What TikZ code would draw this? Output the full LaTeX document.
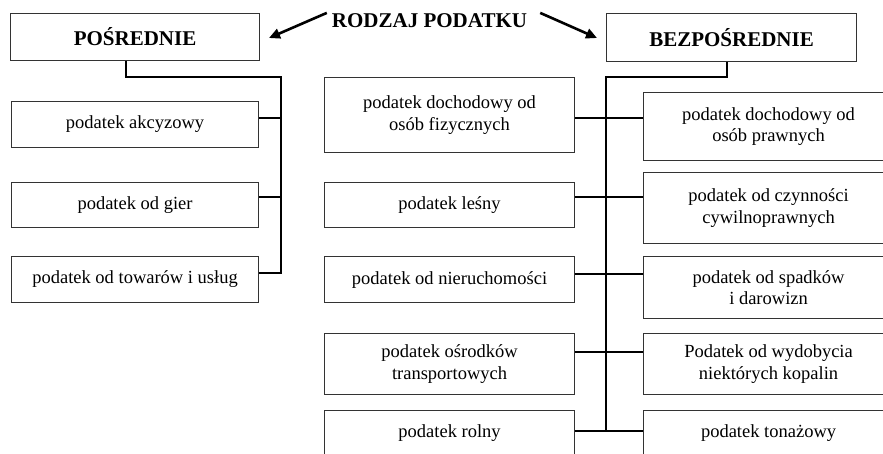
\documentclass[tikz,border=0pt]{standalone}
\usepackage{fontspec}
\setmainfont{Liberation Serif}
\usetikzlibrary{arrows.meta}
\begin{document}
\begin{tikzpicture}[x=1pt,y=-1pt,
  box/.style={draw=black!80, line width=1.1pt, anchor=north west, inner sep=0pt,
    align=center, font=\fontsize{18.5}{21.5}\selectfont},
  headbox/.style={box, font=\bfseries\fontsize{21}{24}\selectfont},
  link/.style={line width=2.3pt, line join=miter, draw=black},
  arr/.style={line width=2.6pt, draw=black, -{Triangle[length=11pt,width=10pt]}}
]
\useasboundingbox (0,0) rectangle (883,454);
\clip (0,0) rectangle (883,454);

% title boxes
\node[headbox, minimum width=249pt, minimum height=47pt] (p) at (10,13) {POŚREDNIE};
\node[headbox, minimum width=250pt, minimum height=48pt] (b) at (606,13) {BEZPOŚREDNIE};
\node[anchor=base, inner sep=0pt, font=\bfseries\fontsize{21}{24}\selectfont] (t) at (429.5,28) {RODZAJ PODATKU};

% left column
\node[box, minimum width=247pt, minimum height=46pt] (l1) at (11,101) {podatek akcyzowy};
\node[box, minimum width=247pt, minimum height=45pt] (l2) at (11,182) {podatek od gier};
\node[box, minimum width=247pt, minimum height=46pt] (l3) at (11,256) {podatek od towarów i usług};

% middle column
\node[box, minimum width=250pt, minimum height=75pt] (m1) at (324,77) {podatek dochodowy od\\osób fizycznych};
\node[box, minimum width=250pt, minimum height=45pt] (m2) at (324,182) {podatek leśny};
\node[box, minimum width=250pt, minimum height=46pt] (m3) at (324,256) {podatek od nieruchomości};
\node[box, minimum width=250pt, minimum height=61pt] (m4) at (324,333) {podatek ośrodków\\transportowych};
\node[box, minimum width=250pt, minimum height=45pt] (m5) at (324,410) {podatek rolny};

% right column
\node[box, minimum width=250pt, minimum height=68pt] (r1) at (643,92) {podatek dochodowy od\\osób prawnych};
\node[box, minimum width=250pt, minimum height=71pt] (r2) at (643,172) {podatek od czynności\\cywilnoprawnych};
\node[box, minimum width=250pt, minimum height=62pt] (r3) at (643,256) {podatek od spadków\\i darowizn};
\node[box, minimum width=250pt, minimum height=61pt] (r4) at (643,333) {Podatek od wydobycia\\niektórych kopalin};
\node[box, minimum width=250pt, minimum height=45pt] (r5) at (643,410) {podatek tonażowy};

% left tree
\coordinate (pk) at (126,77);
\coordinate (ptop) at (281,77);
\coordinate (pj1) at (281,118);
\coordinate (pj2) at (281,197);
\coordinate (pbot) at (281,273);
\draw[link] (p.south -| pk) -- (pk) -- (ptop) -- (pbot) -- (l3.east |- pbot);
\draw[link] (l1.east |- pj1) -- (pj1);
\draw[link] (l2.east |- pj2) -- (pj2);

% right tree
\coordinate (bk) at (727,77);
\coordinate (btop) at (606,77);
\coordinate (bj1) at (606,118);
\coordinate (bj2) at (606,197);
\coordinate (bj3) at (606,274);
\coordinate (bj4) at (606,352);
\coordinate (bj5) at (606,431);
\draw[link] (b.south -| bk) -- (bk) -- (btop) -- (bj5);
\draw[link] (m1.east |- bj1) -- (r1.west |- bj1);
\draw[link] (m2.east |- bj2) -- (r2.west |- bj2);
\draw[link] (m3.east |- bj3) -- (r3.west |- bj3);
\draw[link] (m4.east |- bj4) -- (r4.west |- bj4);
\draw[link] (m5.east |- bj5) -- (r5.west |- bj5);

% arrows
\coordinate (a1e) at (269,38);
\coordinate (a2e) at (597,38);
\draw[arr] ([shift={(-5,-1)}]t.north west) -- (a1e);
\draw[arr] ([shift={(13,-1)}]t.north east) -- (a2e);
\end{tikzpicture}
\end{document}
